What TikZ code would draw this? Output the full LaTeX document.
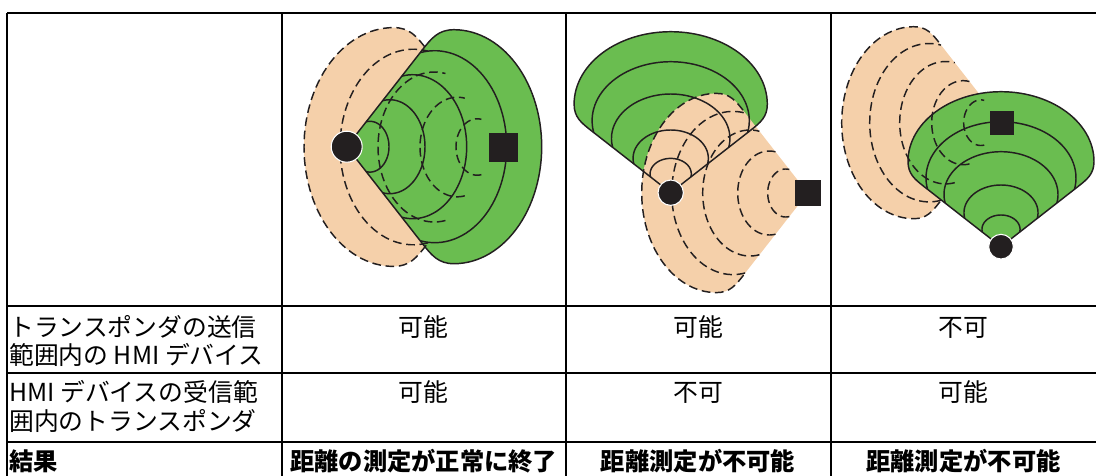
\documentclass[tikz,border=0pt]{standalone}
\usepackage{fontspec}
\setmainfont{Noto Sans CJK JP}
\definecolor{grn}{RGB}{106,189,80}
\definecolor{pch}{RGB}{245,208,170}
\definecolor{ink}{RGB}{35,31,32}
% filled fan: apex at origin, opening along +x, outer reach #2
\newcommand\fanfill[2]{\fill[#1] (0,0) -- ({0.386*#2},{0.494*#2})
  .. controls ({0.435*#2},{0.557*#2}) and ({0.47*#2},{0.6*#2}) .. ({0.55*#2},{0.6*#2})
  -- plot[variable=\t,domain=90:-90,samples=61] ({0.55*#2+0.45*#2*cos(\t)},{0.6*#2*sin(\t)})
  .. controls ({0.47*#2},{-0.6*#2}) and ({0.435*#2},{-0.557*#2}) .. ({0.386*#2},{-0.494*#2})
  -- cycle;}
% outer rim of a fan
\newcommand\fanrim[2]{\draw[#1] ({0.386*#2},{0.494*#2})
  .. controls ({0.435*#2},{0.557*#2}) and ({0.47*#2},{0.6*#2}) .. ({0.55*#2},{0.6*#2})
  -- plot[variable=\t,domain=90:-90,samples=61] ({0.55*#2+0.45*#2*cos(\t)},{0.6*#2*sin(\t)})
  .. controls ({0.47*#2},{-0.6*#2}) and ({0.435*#2},{-0.557*#2}) .. ({0.386*#2},{-0.494*#2});}
% inner arcs of a fan
\newcommand\fanarcs[2]{\foreach \R in {#2}{\draw[#1] plot[variable=\t,domain=101.5:-101.5,samples=61] ({0.55*\R+0.45*\R*cos(\t)},{0.6*\R*sin(\t)});}}
% straight sides of a fan
\newcommand\fanedges[2]{\draw[#1] ({0.386*#2},{0.494*#2}) -- (0,0) -- ({0.386*#2},{-0.494*#2});}
\tikzset{
  arcline/.style={draw=ink, line width=1.1pt, line join=round},
  dashline/.style={draw=ink, line width=1.1pt, dash pattern=on 6.5pt off 3.5pt},
  grid/.style={draw=black, line width=1.5pt},
  lbl/.style={inner sep=0pt, font=\fontsize{18.6pt}{22pt}\selectfont},
  blbl/.style={inner sep=0pt, font=\fontsize{18.2pt}{22pt}\selectfont\bfseries},
  hmi/.style={circle, fill=ink, draw=white, line width=0.8pt, inner sep=0pt},
  tsp/.style={rectangle, fill=ink, inner sep=0pt}
}
\begin{document}
\begin{tikzpicture}[x=0.75pt, y=0.75pt]
\useasboundingbox (0,0) rectangle (1096,-475);
\clip (0,0) rectangle (1096,-475);
% ---------- table grid
\draw[grid] (7,-13) -- (1100,-13);
\draw[grid] (7,-13) -- (7,-480);
\draw[grid] (282,-13) -- (282,-480);
\draw[grid] (565.5,-13) -- (565.5,-480);
\draw[grid] (830.5,-13) -- (830.5,-480);
\draw[grid] (7,-305.7) -- (1100,-305.7);
\draw[grid] (7,-373.3) -- (1100,-373.3);
\draw[grid] (7,-441.7) -- (1100,-441.7);
% ---------- diagram 1
\begin{scope}[shift={(503,-147)}, rotate=180]
  \fanfill{pch}{199}
\end{scope}
\begin{scope}[shift={(346.7,-146.7)}]
  \fanfill{grn}{195}
  \fanarcs{arcline}{42.3,78.3,120,160}
  \fanrim{arcline}{195}
  \fanedges{arcline}{195}
\end{scope}
\begin{scope}[shift={(503,-147)}, rotate=180]
  \fanarcs{dashline}{47,83,125,163}
  \fanrim{dashline}{199}
\end{scope}
\node[hmi, minimum size=23.25pt] (c1) at (346.7,-146.7) {};
\node[tsp, minimum size=21.75pt] (s1) at (503,-147) {};
% ---------- diagram 2
\begin{scope}[shift={(670.7,-192.7)}, rotate=90]
  \fanfill{grn}{161}
\end{scope}
\begin{scope}[shift={(807.7,-193)}, rotate=180]
  \fanfill{pch}{166}
\end{scope}
\begin{scope}[shift={(670.7,-192.7)}, rotate=90]
  \fanarcs{arcline}{34.3,62.7,98.7,131}
  \fanrim{arcline}{161}
  \fanedges{arcline}{161}
\end{scope}
\begin{scope}[shift={(807.7,-193)}, rotate=180]
  \fanarcs{dashline}{40,70,105,136}
  \fanrim{dashline}{166}
\end{scope}
\node[hmi, minimum size=19pt] (c2) at (670.7,-192.7) {};
\node[tsp, minimum size=19.5pt] (s2) at (807.7,-193) {};
% ---------- diagram 3
\begin{scope}[shift={(1001.7,-122.7)}, rotate=180]
  \fanfill{pch}{160}
\end{scope}
\begin{scope}[shift={(1001,-246.7)}, rotate=90]
  \fanfill{grn}{155}
  \fanarcs{arcline}{31.7,61.7,95,125}
  \fanrim{arcline}{155}
  \fanedges{arcline}{155}
\end{scope}
\begin{scope}[shift={(1001.7,-122.7)}, rotate=180]
  \fanarcs{dashline}{38,70,102,132}
  \fanrim{dashline}{160}
\end{scope}
\node[hmi, minimum size=18.5pt] (c3) at (1001,-246.7) {};
\node[tsp, minimum size=18.3pt] (s3) at (1001.7,-122.7) {};
% ---------- texts
\node[lbl, anchor=base west] (r1a) at (9,-336) {トランスポンダの送信};
\node[lbl, anchor=base west] (r1b) at (9,-364) {範囲内の HMI デバイス};
\node[lbl, anchor=base] (r1c2) at (423.75,-336) {可能};
\node[lbl, anchor=base] (r1c3) at (698,-336) {可能};
\node[lbl, anchor=base] (r1c4) at (963.5,-336) {不可};
\node[lbl, anchor=base west] (r2a) at (9,-401) {HMI デバイスの受信範};
\node[lbl, anchor=base west] (r2b) at (9,-430) {囲内のトランスポンダ};
\node[lbl, anchor=base] (r2c2) at (423.75,-401) {可能};
\node[lbl, anchor=base] (r2c3) at (698,-401) {不可};
\node[lbl, anchor=base] (r2c4) at (963.5,-401) {可能};
\node[blbl, anchor=base west] (r3a) at (9,-470) {結果};
\node[blbl, anchor=base] (r3c2) at (423.75,-470) {距離の測定が正常に終了};
\node[blbl, anchor=base] (r3c3) at (698,-470) {距離測定が不可能};
\node[blbl, anchor=base] (r3c4) at (963.5,-470) {距離測定が不可能};
\end{tikzpicture}
\end{document}
